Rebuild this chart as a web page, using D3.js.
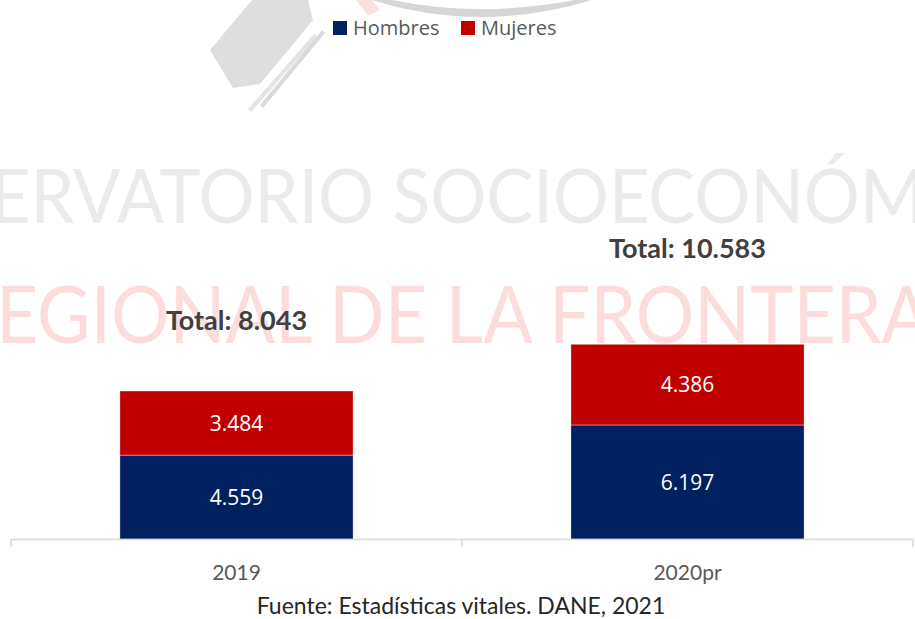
<!DOCTYPE html>
<html>
<head>
<meta charset="utf-8">
<script src="https://cdn.jsdelivr.net/npm/d3@7.9.0/dist/d3.min.js"></script>
<style>
  html, body { margin: 0; padding: 0; background: #fff; }
  svg { display: block; }
</style>
</head>
<body>
<svg id="chart" width="915" height="619"></svg>
<script>
// datos
const years = ['2019', '2020pr'];
const hombres = [4559, 6197];
const mujeres = [3484, 4386];
const totales = [8043, 10583];
const series = ['Hombres', 'Mujeres'];
const colores = ['#002060', '#c00000'];
const fuente = 'Fuente: Estadísticas vitales. DANE, 2021';

// el texto "Total" no está a la misma altura sobre cada barra
const subidaTotal = [71, 96];

const fmt = v => d3.format(',')(v).replace(/,/g, '.');

const svg = d3.select('#chart');

// --- marca de agua (logo recortado) ---
const wm = svg.append('g').attr('class', 'watermark');
wm.append('path')
  .attr('d', 'M372,0 Q480,34 592,0 L575,0 Q480,18 392,0 Z')
  .attr('fill', '#d6d6d6');
wm.append('path')
  .attr('d', 'M252,0 L308,0 L313,20 L260,84 L233,88 L210,50 Z')
  .attr('fill', '#dedede');
wm.append('path')
  .attr('d', 'M322,30 L325,33 L263,108 L260,105 Z')
  .attr('fill', '#dadada');
wm.append('path')
  .attr('d', 'M314,34 L317,37 L251,112 L248,109 Z')
  .attr('fill', '#e4e4e4');
wm.append('path')
  .attr('d', 'M356,0 L372,0 L380,10 L368,16 Z')
  .attr('fill', '#fbe0e0');
wm.append('text')
  .attr('x', -10).attr('y', 223)
  .attr('textLength', 935).attr('lengthAdjust', 'spacingAndGlyphs')
  .attr('font-family', 'Lato, sans-serif').attr('font-size', 76)
  .attr('fill', '#ebebeb')
  .text('ERVATORIO SOCIOECONÓM');
wm.append('text')
  .attr('x', -4).attr('y', 343)
  .attr('textLength', 935).attr('lengthAdjust', 'spacingAndGlyphs')
  .attr('font-family', 'Lato, sans-serif').attr('font-size', 80)
  .attr('fill', '#fddcdc')
  .text('EGIONAL DE LA FRONTERA');

// --- escalas ---
const x = d3.scaleBand()
  .domain(years)
  .range([11, 913])
  .paddingInner(0.483)
  .paddingOuter(0.2415);

const y = d3.scaleLinear()
  .domain([0, 12000])
  .range([539, 318.2]);

const datos = years.map((yr, i) => ({ year: yr, Hombres: hombres[i], Mujeres: mujeres[i] }));
const stack = d3.stack().keys(series)(datos);
const color = d3.scaleOrdinal().domain(series).range(colores);

// --- barras ---
const capas = svg.append('g').selectAll('g')
  .data(stack)
  .join('g')
  .attr('fill', d => color(d.key));

capas.selectAll('rect')
  .data(d => d)
  .join('rect')
  .attr('x', d => x(d.data.year))
  .attr('y', d => y(d[1]))
  .attr('width', x.bandwidth())
  .attr('height', d => y(d[0]) - y(d[1]))
  .attr('stroke', '#ffffff')
  .attr('stroke-opacity', 0.45)
  .attr('stroke-width', 0.8);

// etiquetas dentro de las barras
capas.selectAll('text')
  .data(d => d)
  .join('text')
  .attr('x', d => x(d.data.year) + x.bandwidth() / 2)
  .attr('y', d => (y(d[0]) + y(d[1])) / 2)
  .attr('dy', '0.36em')
  .attr('text-anchor', 'middle')
  .attr('fill', '#ffffff')
  .attr('font-family', '"Open Sans", "Noto Sans", sans-serif')
  .attr('font-size', 21)
  .text(d => fmt(d[1] - d[0]));

// totales
svg.append('g').selectAll('text')
  .data(years)
  .join('text')
  .attr('x', d => x(d) + x.bandwidth() / 2)
  .attr('y', (d, i) => y(totales[i]) - subidaTotal[i])
  .attr('dy', '0.36em')
  .attr('text-anchor', 'middle')
  .attr('fill', '#404040')
  .attr('font-family', 'Lato, sans-serif')
  .attr('font-weight', 'bold')
  .attr('font-size', 27)
  .text((d, i) => 'Total: ' + fmt(totales[i]));

// --- eje x ---
const eje = svg.append('g');
eje.append('line')
  .attr('x1', 11).attr('x2', 913)
  .attr('y1', 539.5).attr('y2', 539.5)
  .attr('stroke', '#d9d9d9').attr('stroke-width', 1.5);
const divisiones = [11, ...years.slice(1).map(d => x(d) - x.step() * x.paddingInner() / 2), 913];
eje.selectAll('line.tick')
  .data(divisiones)
  .join('line')
  .attr('class', 'tick')
  .attr('x1', d => d).attr('x2', d => d)
  .attr('y1', 539).attr('y2', 547)
  .attr('stroke', '#d9d9d9').attr('stroke-width', 1.5);
eje.selectAll('text')
  .data(years)
  .join('text')
  .attr('x', d => x(d) + x.bandwidth() / 2)
  .attr('y', 572)
  .attr('dy', '0.36em')
  .attr('text-anchor', 'middle')
  .attr('fill', '#595959')
  .attr('font-family', 'Lato, sans-serif')
  .attr('font-size', 21)
  .text(d => d);

// fuente
svg.append('text')
  .attr('x', 461).attr('y', 606)
  .attr('dy', '0.36em')
  .attr('text-anchor', 'middle')
  .attr('fill', '#262626')
  .attr('font-family', 'Lato, sans-serif')
  .attr('font-size', 23)
  .text(fuente);

// --- leyenda ---
const leyendaX = [333, 461];
const leyenda = svg.append('g').selectAll('g')
  .data(series)
  .join('g')
  .attr('transform', (d, i) => `translate(${leyendaX[i]},21)`);
leyenda.append('rect')
  .attr('width', 14).attr('height', 14)
  .attr('fill', d => color(d));
leyenda.append('text')
  .attr('x', 20).attr('y', 7)
  .attr('dy', '0.36em')
  .attr('fill', '#595959')
  .attr('font-family', '"Open Sans", "Noto Sans", sans-serif')
  .attr('font-size', 20)
  .text(d => d);
</script>
</body>
</html>
